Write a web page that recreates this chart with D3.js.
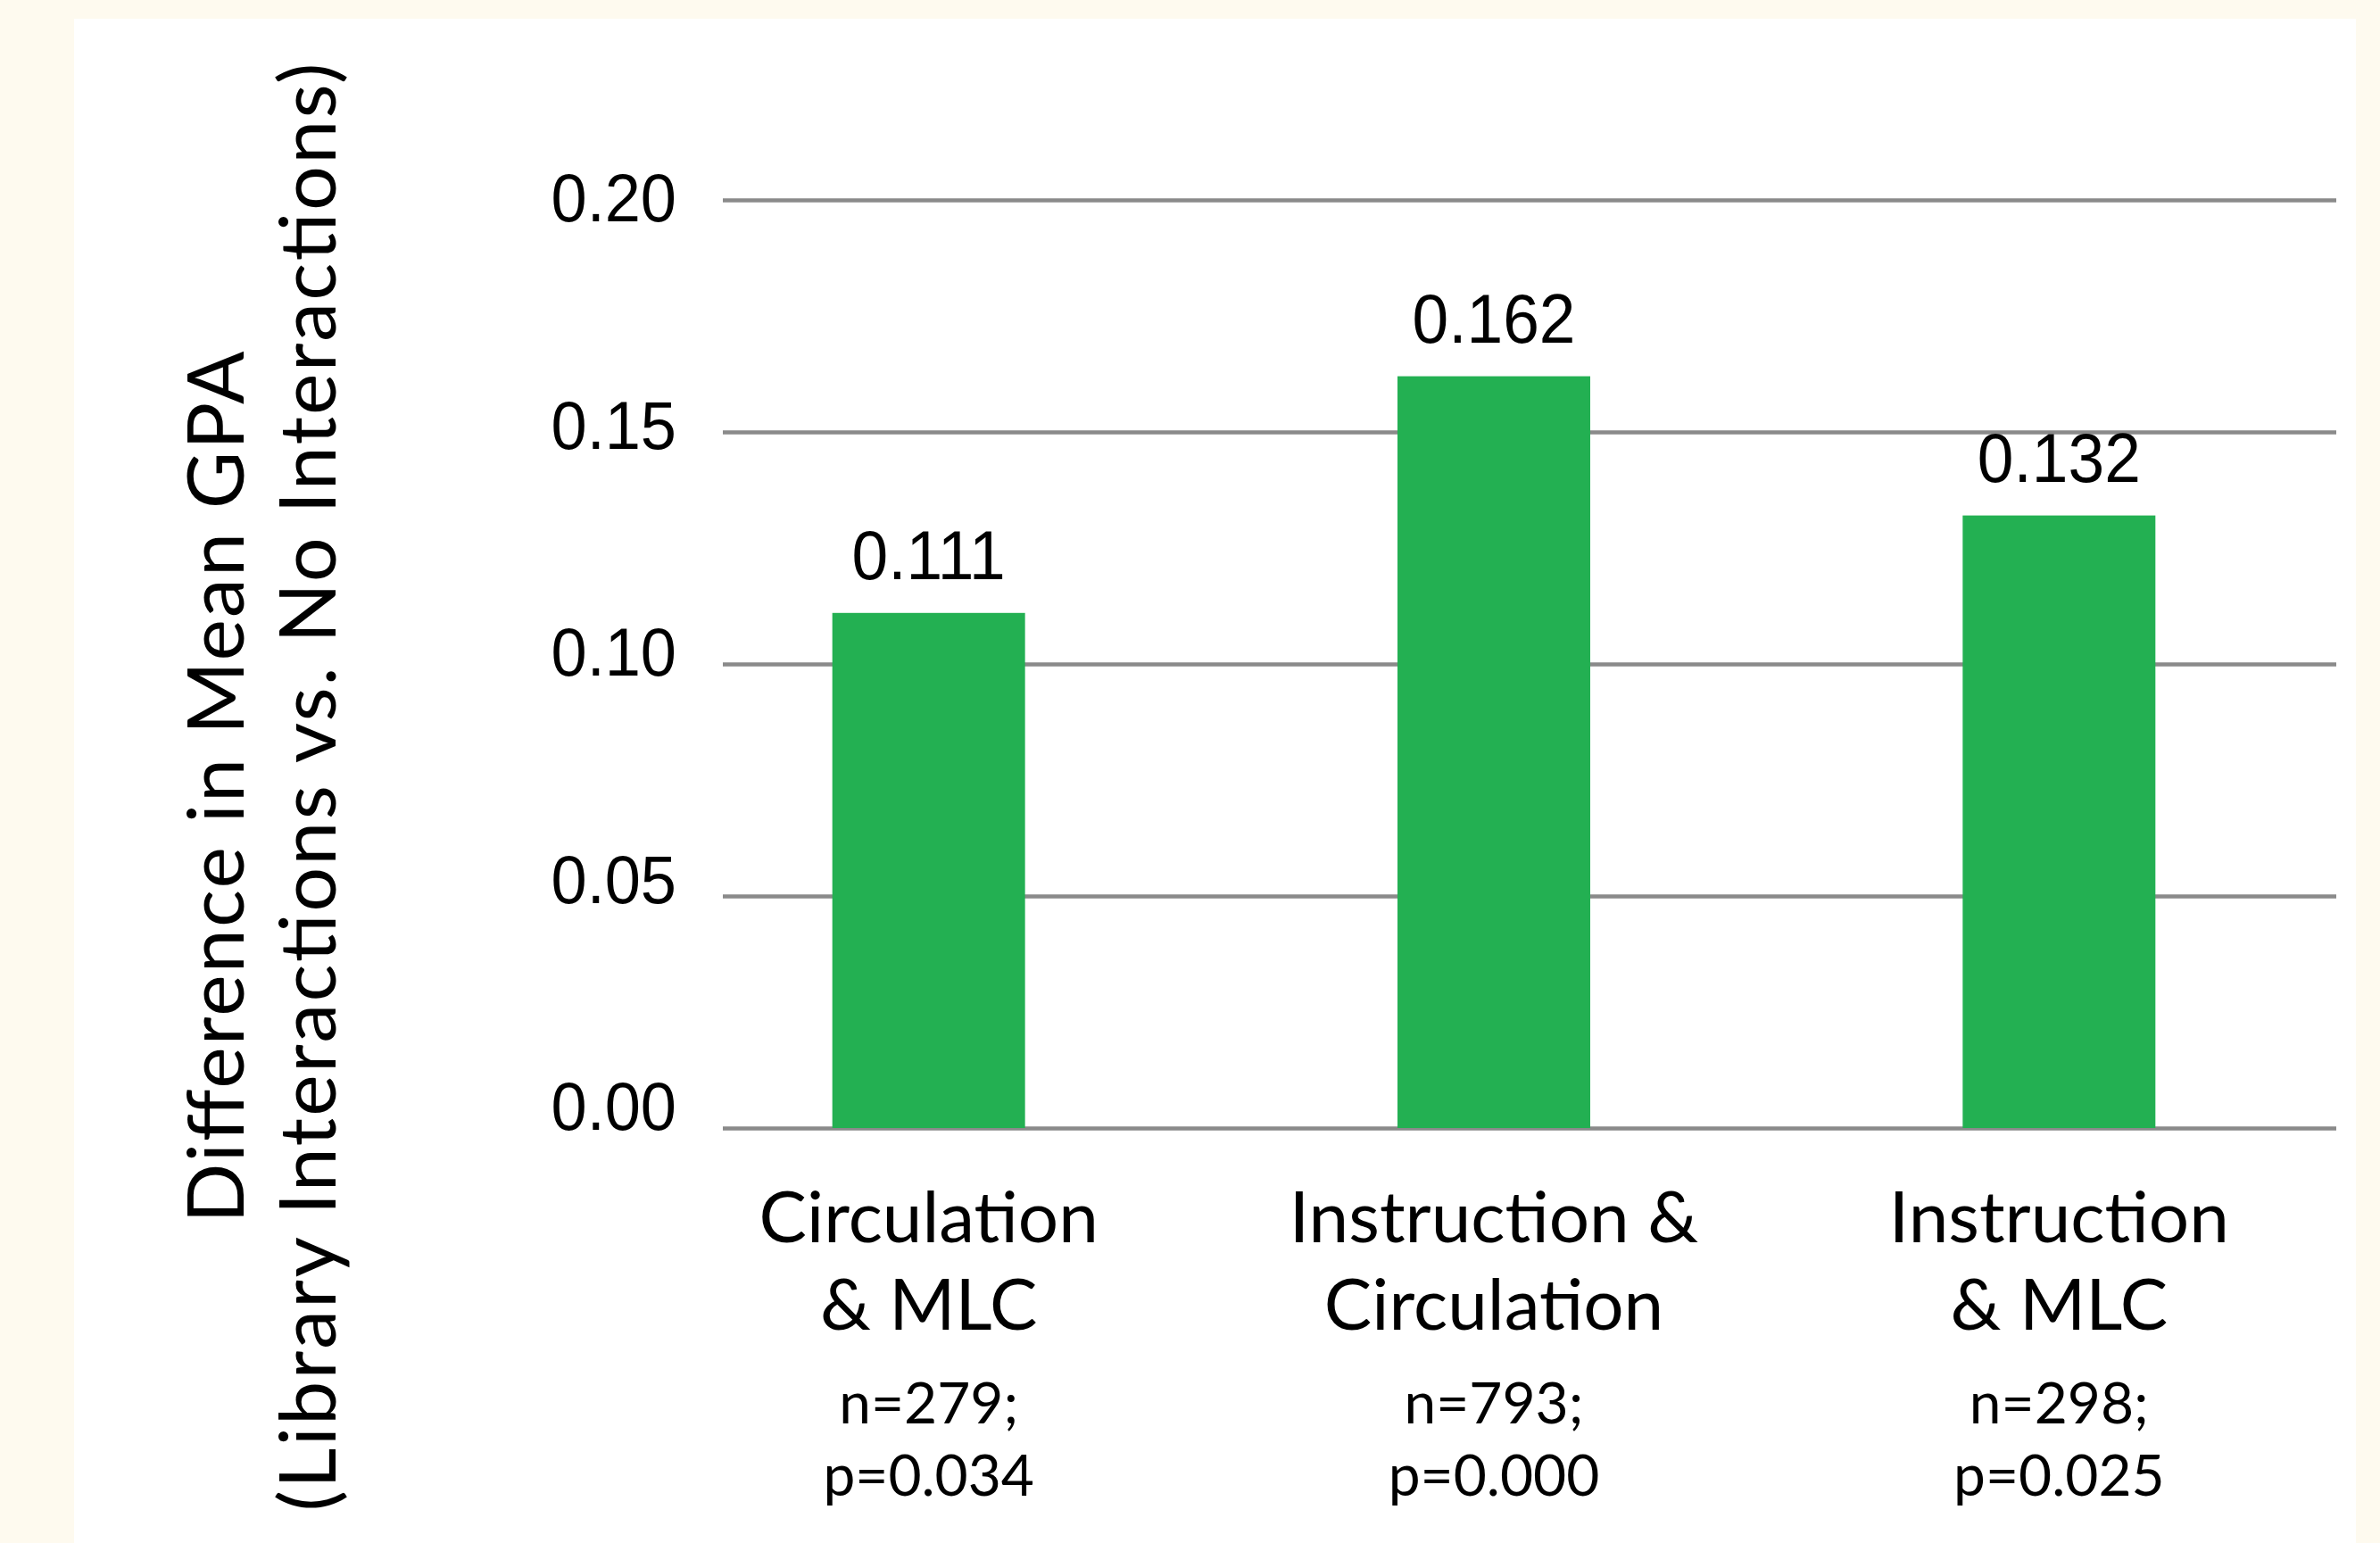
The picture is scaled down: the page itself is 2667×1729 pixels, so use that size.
<!DOCTYPE html>
<html>
<head>
<meta charset="utf-8">
<script src="https://cdn.jsdelivr.net/npm/d3@7"></script>
<style>
  html, body { margin: 0; padding: 0; background: #fefaef; }
  svg { display: block; }
</style>
</head>
<body>
<svg id="chart" width="2667" height="1729"></svg>
<script>
// Library interaction pairs and their GPA differences
const categories = ["Circulation & MLC", "Instruction & Circulation", "Instruction & MLC"];
const categoryLines = [["Circulation", "& MLC"], ["Instruction &", "Circulation"], ["Instruction", "& MLC"]];
const gpaDifference = [0.111, 0.162, 0.132];
const valueLabels = ["0.111", "0.162", "0.132"];
const sampleSizes = ["n=279;", "n=793;", "n=298;"];
const pValues = ["p=0.034", "p=0.000", "p=0.025"];
const yTicks = [0, 0.05, 0.10, 0.15, 0.20];
const yTickLabels = ["0.00", "0.05", "0.10", "0.15", "0.20"];
const yTitle = ["Difference in Mean GPA", "(Library Interactions vs. No Interactions)"];

const W = 2667, H = 1729;
const svg = d3.select("#chart");

// cream page with white card
svg.append("rect").attr("width", W).attr("height", H).attr("fill", "#fefaef");
svg.append("rect").attr("x", 83).attr("y", 21).attr("width", 2640 - 83).attr("height", H - 21).attr("fill", "#ffffff");

const gridLeft = 810, gridRight = 2618;
const y = d3.scaleLinear().domain([0, 0.20]).range([1264, 224]);
// tick labels sit on a slightly tighter ladder than the gridlines
const yLabel = d3.scaleLinear().domain([0, 0.20]).range([1239, 221]);
const x = d3.scaleBand().domain(categories).range([724, 2624]).paddingInner(0.659).paddingOuter(0.3295);

const numFont = "'Liberation Sans', Arial, Helvetica, sans-serif";
const textFont = "Lato, 'Open Sans', sans-serif";
const squeeze = 0.95;

// horizontal gridlines
const grid = svg.append("g")
  .attr("transform", `translate(${gridLeft},0)`)
  .call(d3.axisLeft(y).tickValues(yTicks).tickSize(-(gridRight - gridLeft)).tickFormat(""));
grid.select(".domain").remove();
grid.selectAll(".tick line").attr("stroke", "#8a8a8a").attr("stroke-width", 4.5);

// y tick labels
svg.append("g").selectAll("text")
  .data(yTicks)
  .join("text")
  .attr("transform", d => `translate(758,${yLabel(d) + 27}) scale(${squeeze},1)`)
  .attr("text-anchor", "end")
  .attr("font-family", numFont)
  .attr("font-size", 76)
  .attr("fill", "#000")
  .text((d, i) => yTickLabels[i]);

// bars
svg.append("g").selectAll("rect")
  .data(gpaDifference)
  .join("rect")
  .attr("x", (d, i) => x(categories[i]))
  .attr("y", d => y(d))
  .attr("width", x.bandwidth())
  .attr("height", d => y(0) - y(d))
  .attr("fill", "#23b052");

// value labels above bars
svg.append("g").selectAll("text")
  .data(gpaDifference)
  .join("text")
  .attr("transform", (d, i) => `translate(${x(categories[i]) + x.bandwidth() / 2},${y(d) - 38}) scale(${squeeze},1)`)
  .attr("text-anchor", "middle")
  .attr("font-family", numFont)
  .attr("font-size", 77)
  .attr("fill", "#000")
  .text((d, i) => valueLabels[i]);

// category labels with sample size and significance
const cat = svg.append("g").selectAll("g")
  .data(categories)
  .join("g")
  .attr("transform", d => `translate(${x(d) + x.bandwidth() / 2},0)`)
  .attr("text-anchor", "middle")
  .attr("fill", "#000");

cat.each(function (d, i) {
  const g = d3.select(this);
  categoryLines[i].forEach((line, j) => {
    g.append("text")
      .attr("y", 1392 + j * 98)
      .attr("font-family", textFont)
      .attr("font-size", 80)
      .text(line);
  });
  g.append("text").attr("y", 1595).attr("font-family", textFont).attr("font-size", 64).text(sampleSizes[i]);
  g.append("text").attr("y", 1676).attr("font-family", textFont).attr("font-size", 64).text(pValues[i]);
});

// rotated y-axis title
const titleLengths = [977, 1623];
const title = svg.append("g").attr("transform", "translate(0,882) rotate(-90)");
yTitle.forEach((line, j) => {
  title.append("text")
    .attr("x", 0)
    .attr("y", 273 + j * 103)
    .attr("text-anchor", "middle")
    .attr("font-family", textFont)
    .attr("font-size", 88)
    .attr("textLength", titleLengths[j])
    .attr("lengthAdjust", "spacing")
    .attr("fill", "#000")
    .text(line);
});
</script>
</body>
</html>
